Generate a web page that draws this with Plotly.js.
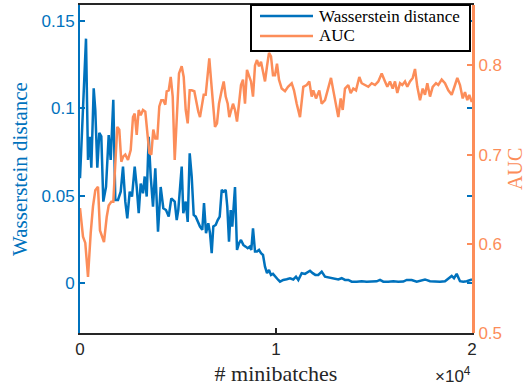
<!DOCTYPE html>
<html>
<head>
<meta charset="utf-8">
<script src="https://cdn.plot.ly/plotly-3.0.1.min.js"></script>
<style>html,body{margin:0;padding:0;background:#fff;}#chart{width:526px;height:387px;}</style>
</head>
<body>
<div id="chart"></div>
<script>
// Wasserstein distance series (left axis)
const wdX = [0,153,306,408,510,577,699,781,883,985,1087,1189,1327,1464,1566,1699,1801,1939,2077,2194,2311,2413,2536,2653,2791,2893,2995,3097,3214,3301,3403,3505,3607,3724,3842,3980,4117,4250,4388,4526,4658,4832,4934,5015,5102,5189,5270,5393,5495,5597,5699,5801,5903,6005,6122,6240,6327,6429,6546,6633,6719,6801,6923,7026,7128,7230,7332,7434,7515,7602,7689,7770,7908,8010,8112,8214,8332,8454,8556,8658,8740,8827,8929,9031,9133,9235,9337,9439,9541,9643,9745,9847,9949,10117,10204,10372,10546,10714,10883,11020,11138,11311,11480,11597,11735,11872,12005,12158,12332,12500,12668,12842,13010,13179,13352,13520,13689,13862,14117,14372,14627,14883,15138,15306,15474,15730,15985,16240,16495,16668,16923,17179,17434,17602,17857,18112,18367,18622,18791,18964,19082,19219,19388,19556,19730,19898,20000];
const wdY = [0.060,0.100,0.140,0.0705,0.0838,0.066,0.1115,0.099,0.066,0.086,0.084,0.0466,0.055,0.0848,0.0705,0.105,0.0476,0.0476,0.0523,0.0667,0.0466,0.037,0.0523,0.0495,0.0667,0.055,0.040,0.057,0.0514,0.061,0.0495,0.0838,0.061,0.0437,0.0657,0.0294,0.055,0.0428,0.0418,0.038,0.0485,0.0466,0.036,0.0418,0.055,0.0667,0.040,0.0466,0.035,0.0743,0.061,0.039,0.038,0.035,0.0323,0.0304,0.0457,0.0285,0.0342,0.0285,0.017,0.0323,0.0332,0.036,0.038,0.0533,0.0523,0.0533,0.0437,0.0237,0.0418,0.0323,0.055,0.0189,0.0227,0.0246,0.0218,0.0208,0.0199,0.0208,0.0189,0.0313,0.018,0.018,0.0189,0.017,0.016,0.0093,0.0056,0.0074,0.0046,0.0052,0.0036,0.0017,0.0007,0.0017,0.0021,0.0027,0.002,0.0036,0.0017,0.0056,0.0052,0.0059,0.007,0.0056,0.0046,0.0046,0.0065,0.0036,0.0033,0.0027,0.0027,0.002,0.0027,0.0017,0.0017,0.0007,0.0007,0.001,0.0007,0.0007,0.0009,0.0017,0.0007,0.0007,0.001,0.0007,0.0008,0.0017,0.0017,0.0007,0.0017,0.002,0.001,0.0007,0.0007,0.001,0.0027,0.004,0.0027,0.0052,0.001,0.0007,0.001,0.0017,0.002];

// AUC series (right axis)
const aucX = [0,153,270,408,546,663,781,918,1020,1122,1224,1362,1464,1597,1699,1801,1903,2005,2107,2209,2311,2449,2587,2704,2791,2893,2995,3097,3214,3332,3434,3536,3638,3740,3842,3944,4046,4148,4250,4352,4423,4526,4628,4730,4832,4964,5051,5189,5291,5393,5495,5597,5699,5832,5934,6036,6122,6209,6311,6413,6515,6597,6684,6786,6888,6990,7092,7230,7332,7434,7536,7617,7704,7806,7908,8010,8112,8214,8316,8418,8520,8622,8724,8827,8929,9031,9133,9235,9337,9439,9541,9643,9745,9847,9949,10051,10153,10291,10459,10612,10801,10918,11056,11224,11393,11566,11699,11821,11903,12041,12209,12332,12500,12668,12806,12923,13061,13179,13301,13403,13520,13689,13811,13944,14082,14250,14372,14541,14709,14883,15051,15219,15393,15561,15679,15816,15954,16071,16189,16327,16444,16582,16699,16837,16975,17092,17210,17347,17485,17602,17720,17857,17995,18163,18281,18454,18622,18791,18964,19133,19250,19388,19526,19643,19760,19862,19985,20000];
const aucY = [0.640,0.608,0.601,0.563,0.612,0.642,0.660,0.664,0.615,0.608,0.602,0.630,0.643,0.647,0.647,0.690,0.731,0.728,0.692,0.698,0.700,0.694,0.705,0.742,0.746,0.722,0.750,0.744,0.750,0.748,0.728,0.702,0.700,0.728,0.718,0.718,0.754,0.761,0.761,0.756,0.771,0.772,0.787,0.765,0.694,0.746,0.791,0.799,0.787,0.750,0.735,0.772,0.772,0.771,0.759,0.748,0.742,0.754,0.767,0.767,0.791,0.808,0.784,0.754,0.731,0.735,0.757,0.772,0.782,0.765,0.757,0.742,0.750,0.757,0.750,0.737,0.757,0.778,0.784,0.757,0.795,0.787,0.782,0.765,0.800,0.806,0.799,0.804,0.791,0.782,0.799,0.814,0.810,0.789,0.789,0.802,0.784,0.774,0.771,0.776,0.780,0.772,0.757,0.742,0.776,0.778,0.782,0.765,0.772,0.763,0.772,0.757,0.761,0.774,0.786,0.772,0.757,0.742,0.763,0.750,0.774,0.778,0.769,0.774,0.772,0.787,0.780,0.778,0.776,0.780,0.778,0.782,0.791,0.782,0.776,0.782,0.774,0.782,0.769,0.780,0.778,0.782,0.776,0.782,0.786,0.796,0.776,0.761,0.774,0.767,0.780,0.765,0.776,0.780,0.778,0.784,0.780,0.772,0.767,0.778,0.786,0.778,0.763,0.770,0.761,0.767,0.759,0.760];

const xTickVals = [0, 10000, 20000];
const xTickText = ['0', '1', '2'];
const yTickVals = [0, 0.05, 0.1, 0.15];
const yTickText = ['0', '0.05', '0.1', '0.15'];
const y2TickVals = [0.5, 0.6, 0.7, 0.8];
const y2TickText = ['0.5', '0.6', '0.7', '0.8'];
const seriesNames = ['Wasserstein distance', 'AUC'];

const BLUE = '#0072BD';
const ORANGE = '#FC8D59';
const DARK = '#262626';
const SANS = 'Liberation Sans';
const SERIF = 'Liberation Serif';
const COLORS = [BLUE, ORANGE];

const traces = [
  {x: wdX, y: wdY, type: 'scatter', mode: 'lines', name: seriesNames[0],
   line: {color: BLUE, width: 2.5}, yaxis: 'y'},
  {x: aucX, y: aucY, type: 'scatter', mode: 'lines', name: seriesNames[1],
   line: {color: ORANGE, width: 2.5}, yaxis: 'y2'}
];

// legend box drawn in paper coordinates (plot area: x 80..472, y 5..333 px)
const px2x = p => (p - 80) / 392;
const px2y = p => (333 - p) / 328;
const legendRows = [16, 36];
const shapes = [
  {type: 'rect', xref: 'paper', yref: 'paper', x0: px2x(251), x1: px2x(470), y0: px2y(51), y1: 1,
   fillcolor: '#fff', line: {color: '#000', width: 2}, layer: 'above'}
];
const annotations = [];
legendRows.forEach((r, i) => {
  shapes.push({type: 'line', xref: 'paper', yref: 'paper', x0: px2x(260), x1: px2x(313),
               y0: px2y(r), y1: px2y(r), line: {color: COLORS[i], width: 2.5}, layer: 'above'});
  annotations.push({xref: 'paper', yref: 'paper', x: px2x(317), y: px2y(r), xanchor: 'left', yanchor: 'middle',
                    text: seriesNames[i], showarrow: false, font: {family: SERIF, size: 17, color: '#000'}});
});
annotations.push({xref: 'paper', yref: 'paper', x: 1, y: 0, xanchor: 'right', yanchor: 'bottom', yshift: -55, xshift: 1,
                  text: '×10<sup>4</sup>', showarrow: false, font: {family: SANS, size: 17, color: DARK}});
annotations.push({xref: 'paper', yref: 'paper', x: px2x(515), y: px2y(169), xanchor: 'center', yanchor: 'middle',
                  textangle: -90, text: 'AUC', showarrow: false, font: {family: SERIF, size: 20, color: ORANGE}});

const layout = {
  width: 526, height: 387,
  margin: {l: 80, r: 54, t: 5, b: 54},
  paper_bgcolor: '#fff', plot_bgcolor: '#fff',
  showlegend: false,
  xaxis: {range: [0, 20000], tickvals: xTickVals, ticktext: xTickText,
          ticks: 'inside', ticklen: 5, tickwidth: 2, tickcolor: DARK,
          showline: true, linecolor: DARK, linewidth: 2, mirror: 'ticks',
          showgrid: false, zeroline: false,
          tickfont: {family: SANS, size: 17, color: DARK},
          title: {text: '# minibatches', font: {family: SERIF, size: 22, color: DARK}, standoff: 7}},
  yaxis: {range: [-0.0287, 0.1593], tickvals: yTickVals, ticktext: yTickText,
          ticks: 'inside', ticklen: 5, tickwidth: 2, tickcolor: BLUE,
          showline: true, linecolor: BLUE, linewidth: 2, mirror: 'ticks',
          showgrid: false, zeroline: false,
          tickfont: {family: SANS, size: 17, color: BLUE},
          title: {text: 'Wasserstein distance', font: {family: SERIF, size: 21, color: BLUE}, standoff: 8}},
  yaxis2: {range: [0.5, 0.8677], tickvals: y2TickVals, ticktext: y2TickText,
          overlaying: 'y', side: 'right',
          ticks: 'inside', ticklen: 5, tickwidth: 2, tickcolor: ORANGE,
          showline: true, linecolor: ORANGE, linewidth: 3,
          showgrid: false, zeroline: false,
          tickfont: {family: SANS, size: 17, color: ORANGE}},
  shapes: shapes,
  annotations: annotations
};

Plotly.newPlot('chart', traces, layout, {staticPlot: true, displayModeBar: false});
</script>
</body>
</html>
